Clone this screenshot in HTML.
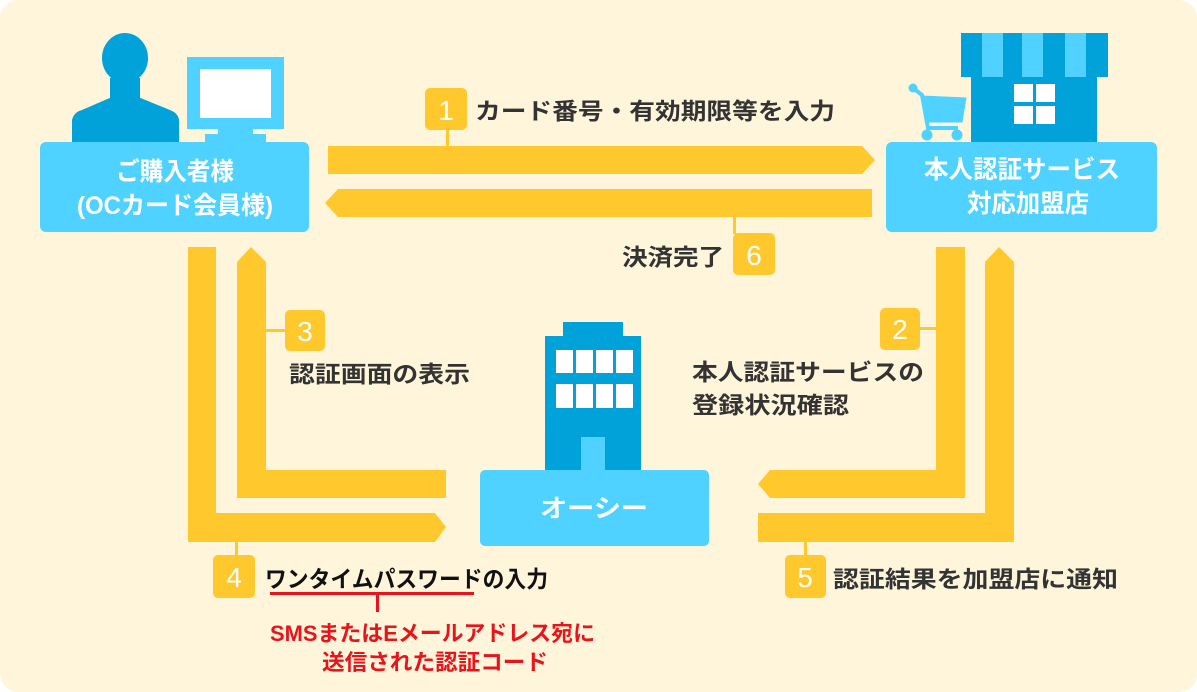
<!DOCTYPE html>
<html><head><meta charset="utf-8"><style>
html,body{margin:0;padding:0;background:#fff;}
svg{display:block;}
text{font-family:"Liberation Sans","Noto Sans CJK JP",sans-serif;font-weight:bold;}
</style></head><body>
<svg width="1197" height="692" viewBox="0 0 1197 692" xmlns="http://www.w3.org/2000/svg">
<rect x="0" y="0" width="1197" height="692" rx="18" fill="#fef5da"/>
<g fill="#ffc82c">
<polygon points="328,146 862,146 875,160 862,174 328,174"/>
<polygon points="338,189 872,189 872,217 338,217 325,203"/>
<polygon points="188,247 216,247 216,513 435,513 446,527 435,542 188,542"/>
<polygon points="237,262 251,247 266,262 266,470 446,470 446,498 237,498"/>
<polygon points="936,247 965,247 965,498 770,498 758,484 770,470 936,470"/>
<polygon points="985,262 999,247 1014,262 1014,542 758,542 758,513 985,513"/>
<rect x="446" y="128" width="3" height="18"/>
<rect x="733" y="217" width="3" height="17"/>
<rect x="266" y="329" width="20" height="3"/>
<rect x="918" y="327" width="18" height="3"/>
<rect x="235" y="542" width="3" height="14"/>
<rect x="804" y="542" width="3" height="14"/>
<rect x="425" y="88" width="42" height="42" rx="5"/>
<rect x="733" y="233" width="42" height="42" rx="5"/>
<rect x="285" y="310" width="40" height="41" rx="5"/>
<rect x="880" y="308" width="40" height="42" rx="5"/>
<rect x="213" y="555" width="42" height="43" rx="5"/>
<rect x="785" y="555" width="41" height="43" rx="5"/>
</g>
<g fill="#fff" font-size="28" text-anchor="middle">
<text x="446" y="120" style="font-weight:normal">1</text>
<text x="754" y="265" style="font-weight:normal">6</text>
<text x="305" y="341" style="font-weight:normal">3</text>
<text x="900" y="339" style="font-weight:normal">2</text>
<text x="234" y="587" style="font-weight:normal">4</text>
<text x="805" y="587" style="font-weight:normal">5</text>
</g>
<!-- person -->
<g fill="#00a2d9">
<ellipse cx="125" cy="58" rx="23" ry="25"/>
<rect x="110" y="78" width="30" height="24"/>
<path d="M72,142 L72,120 Q74,112 82,110 L112,97 L138,97 L170,110 Q178,113 179,120 L179,142 Z"/>
</g>
<!-- monitor -->
<rect x="187" y="57" width="97" height="72" fill="#4fd2ff"/>
<rect x="200" y="69" width="71" height="49" fill="#fff"/>
<rect x="218" y="128" width="35" height="8" fill="#4fd2ff"/>
<rect x="205" y="134" width="61" height="10" fill="#4fd2ff"/>
<!-- left box -->
<rect x="40" y="142" width="269" height="90" rx="6" fill="#4fd2ff"/>
<text x="175" y="180" fill="#fff" font-size="25" text-anchor="middle" textLength="118" lengthAdjust="spacingAndGlyphs">ご購入者様</text>
<text x="175" y="214" fill="#fff" font-size="25" text-anchor="middle" textLength="196" lengthAdjust="spacingAndGlyphs">(OCカード会員様)</text>
<!-- store -->
<rect x="961" y="33" width="147" height="44" fill="#00a2d9"/>
<g fill="#4fd2ff"><rect x="982" y="33" width="21" height="44"/><rect x="1022" y="33" width="21" height="44"/><rect x="1065" y="33" width="21" height="44"/></g>
<rect x="971" y="77" width="126" height="66" fill="#00a2d9"/>
<g fill="#fff"><rect x="1014" y="84" width="19" height="18"/><rect x="1036" y="84" width="19" height="18"/><rect x="1014" y="106" width="19" height="18"/><rect x="1036" y="106" width="19" height="18"/></g>
<!-- cart -->
<g fill="#4fd2ff" stroke="#4fd2ff">
<circle cx="913" cy="88" r="4"/>
<path d="M913,88 L922,95 L928,128 L958,128" fill="none" stroke-width="4"/>
<path d="M922,96 L966,98 L962,122 L926,122 Z"/>
<circle cx="927" cy="135" r="5"/><circle cx="957" cy="135" r="5"/>
</g>
<!-- right box -->
<rect x="886" y="142" width="271" height="90" rx="6" fill="#4fd2ff"/>
<text x="1022" y="178" fill="#fff" font-size="25" text-anchor="middle" textLength="196" lengthAdjust="spacingAndGlyphs">本人認証サービス</text>
<text x="1028" y="212" fill="#fff" font-size="25" text-anchor="middle" textLength="122" lengthAdjust="spacingAndGlyphs">対応加盟店</text>
<!-- building -->
<rect x="563" y="322" width="60" height="16" fill="#00a2d9"/>
<rect x="545" y="336" width="96" height="135" fill="#00a2d9"/>
<g fill="#fff">
<rect x="556" y="350" width="17" height="23"/><rect x="576" y="350" width="17" height="23"/><rect x="596" y="350" width="17" height="23"/><rect x="616" y="350" width="17" height="23"/>
<rect x="556" y="384" width="17" height="24"/><rect x="576" y="384" width="17" height="24"/><rect x="596" y="384" width="17" height="24"/><rect x="616" y="384" width="17" height="24"/>
</g>
<rect x="581" y="437" width="24" height="34" fill="#4fd2ff"/>
<rect x="480" y="470" width="229" height="76" rx="5" fill="#4fd2ff"/>
<text x="594" y="517" fill="#fff" font-size="25" text-anchor="middle" textLength="108" lengthAdjust="spacingAndGlyphs">オーシー</text>
<g fill="#333" font-size="23">
<text x="475" y="119" textLength="360" lengthAdjust="spacingAndGlyphs">カード番号・有効期限等を入力</text>
<text x="622" y="265" textLength="102" lengthAdjust="spacingAndGlyphs">決済完了</text>
<text x="289" y="382" textLength="181" lengthAdjust="spacingAndGlyphs">認証画面の表示</text>
<text x="692" y="380" textLength="232" lengthAdjust="spacingAndGlyphs">本人認証サービスの</text>
<text x="692" y="413" textLength="157" lengthAdjust="spacingAndGlyphs">登録状況確認</text>
<text x="833" y="587" textLength="285" lengthAdjust="spacingAndGlyphs">認証結果を加盟店に通知</text>
</g>
<text x="265" y="587" fill="#111" font-size="23" textLength="283" lengthAdjust="spacingAndGlyphs">ワンタイムパスワードの入力</text>
<rect x="270" y="592" width="204" height="3" fill="#e8141c"/>
<rect x="376" y="594" width="3" height="18" fill="#e8141c"/>
<g fill="#e8141c" font-size="22">
<text x="270" y="641" textLength="325" lengthAdjust="spacingAndGlyphs">SMSまたはEメールアドレス宛に</text>
<text x="322" y="670" textLength="226" lengthAdjust="spacingAndGlyphs">送信された認証コード</text>
</g>
</svg>
</body></html>
